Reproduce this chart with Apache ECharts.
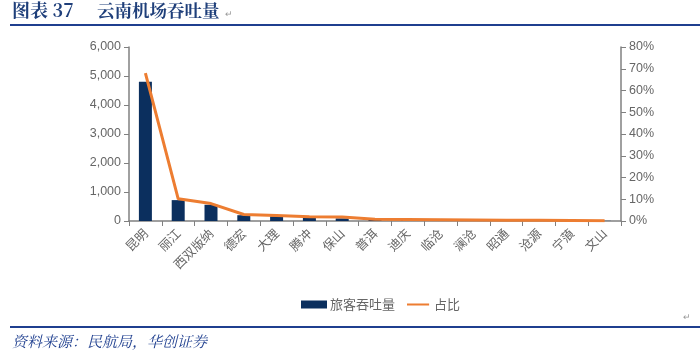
<!DOCTYPE html>
<html><head><meta charset="utf-8">
<script src="https://cdn.jsdelivr.net/npm/echarts@6/dist/echarts.min.js"></script>
<style>html,body{margin:0;padding:0;background:#fff}#c{width:700px;height:355px}</style>
</head><body><div id="c"></div>
<script>
const categories = ['昆明','丽江','西双版纳','德宏','大理','腾冲','保山','普洱','迪庆','临沧','澜沧','昭通','沧源','宁蒗','文山'];
const throughput = [4800, 720, 560, 200, 160, 110, 90, 45, 35, 28, 20, 18, 14, 10, 5];
const share = [68, 10.2, 8.0, 3.0, 2.5, 2.0, 1.8, 0.8, 0.7, 0.6, 0.5, 0.4, 0.3, 0.2, 0.1];
const leftTicks = [0, 1000, 2000, 3000, 4000, 5000, 6000];
const rightTicks = [0, 10, 20, 30, 40, 50, 60, 70, 80];

const chart = echarts.init(document.getElementById('c'));
const gray = '#666666';
const axisLineColor = '#808080';
const lineIcon = 'path://M0,0L0.01,0L0.01,0.01Z M0,3.4H26V6.0H0Z M0,9.4L0.01,9.4L0.01,9.39Z';
chart.setOption({
  animation: false,
  textStyle: {fontFamily: '"Liberation Sans", Arial, sans-serif'},
  grid: {left: 129, right: 79, top: 47, bottom: 134},
  legend: {
    top: 293, left: 296, itemGap: 12, itemWidth: 26, itemHeight: 8,
    textStyle: {color: gray, fontSize: 13, padding: [0, 0, 0, -2], fontFamily: '"Noto Sans CJK SC", sans-serif'},
    data: [{name: '旅客吞吐量', icon: 'rect'}, {name: '占比', icon: lineIcon}]
  },
  xAxis: {
    type: 'category', data: categories,
    axisLine: {lineStyle: {color: axisLineColor, width: 1.5}},
    axisTick: {show: true, length: 5, lineStyle: {color: axisLineColor}},
    axisLabel: {rotate: 45, color: gray, fontSize: 12.5, margin: 10, interval: 0,
      fontFamily: '"Noto Sans CJK SC", sans-serif'}
  },
  yAxis: [
    {type: 'value', min: 0, max: 6000, interval: 1000, position: 'left',
     axisLine: {show: true, lineStyle: {color: axisLineColor, width: 1.5}},
     axisTick: {show: true, inside: false, length: 5, lineStyle: {color: axisLineColor}},
     splitLine: {show: false},
     axisLabel: {color: gray, fontSize: 12.5, margin: 8,
       formatter: v => leftTicks.includes(v) ? v.toLocaleString('en-US') : ''}},
    {type: 'value', min: 0, max: 80, interval: 10, position: 'right',
     axisLine: {show: true, lineStyle: {color: axisLineColor, width: 1.5}},
     axisTick: {show: true, length: 5, lineStyle: {color: axisLineColor}},
     splitLine: {show: false},
     axisLabel: {color: gray, fontSize: 12.5, margin: 8,
       formatter: v => rightTicks.includes(v) ? v + '%' : ''}}
  ],
  series: [
    {name: '旅客吞吐量', type: 'bar', data: throughput, barWidth: 13,
     itemStyle: {color: '#0B2F5E'}},
    {name: '占比', type: 'line', yAxisIndex: 1, data: share, symbol: 'none',
     lineStyle: {color: '#ED7D31', width: 3}, itemStyle: {color: '#ED7D31'}}
  ],
  graphic: [
    {type: 'text', left: 12, top: 1, style: {text: '图表 37', fill: '#1F3F7A',
      font: 'bold 18px "Noto Serif CJK SC", "Noto Sans CJK SC", serif'}},
    {type: 'text', left: 97, top: 2, style: {text: '云南机场吞吐量', fill: '#1F3F7A',
      font: 'bold 17.5px "Noto Serif CJK SC", "Noto Sans CJK SC", serif'}},
    {type: 'text', left: 225, top: 10, style: {text: '↵', fill: '#999', font: '9px sans-serif'}},
    {type: 'rect', shape: {x: 10, y: 24, width: 690, height: 2}, style: {fill: '#1F3F8F'}},
    {type: 'rect', shape: {x: 10, y: 326, width: 690, height: 2}, style: {fill: '#1F3F8F'}},
    {type: 'text', left: 12, top: 334, style: {text: '资料来源：民航局，华创证券', fill: '#1F3F8F',
      font: 'italic 15px "Noto Serif CJK SC", "Noto Sans CJK SC", serif'}},
    {type: 'text', left: 683, top: 313, style: {text: '↵', fill: '#999', font: '9px sans-serif'}}
  ]
});
</script></body></html>
